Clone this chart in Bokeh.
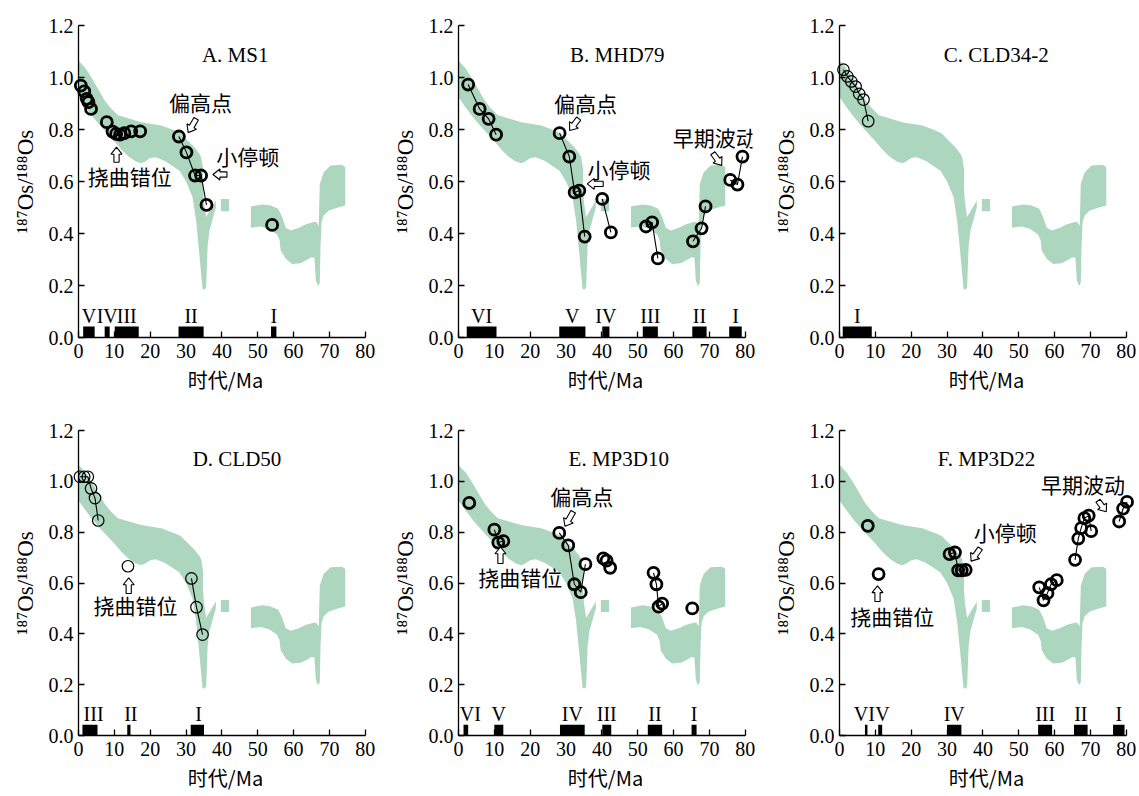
import math
from bokeh.plotting import figure
from bokeh.layouts import column, row
from bokeh.models import Range1d, FixedTicker, PrintfTickFormatter, Label
from bokeh.embed import file_html
from bokeh.resources import INLINE

# ---------------- seawater 187Os/188Os envelope ----------------
band_main_x = [0, 1, 2, 3.6, 5.5, 7.3, 9, 10.1, 11, 12.9,
               15, 17.5, 20, 23.1, 26.8, 28.5, 30.4, 32.3, 33.7, 34.2,
               34.8, 34.7, 35.0, 35.6, 38.3, 38.3, 36.5, 36.0, 35.6, 35.2,
               34.6, 33.7, 32.8, 31.8, 30.0, 28.1, 26.0, 24.0, 21.5, 20.0,
               18.5, 17.5, 16.0, 14.0, 12.0, 10.0, 8.0, 6.0, 4.0, 2.0, 0]
band_main_y = [1.065, 1.05, 1.035, 1.0, 0.955, 0.912, 0.882, 0.867, 0.855, 0.847,
               0.838, 0.828, 0.822, 0.815, 0.796, 0.785, 0.758, 0.732, 0.707, 0.694,
               0.642, 0.58, 0.52, 0.463, 0.527, 0.500, 0.41, 0.347, 0.193, 0.185,
               0.187, 0.322, 0.45, 0.54, 0.60, 0.642, 0.662, 0.68, 0.693, 0.69,
               0.676, 0.67, 0.677, 0.695, 0.722, 0.755, 0.785, 0.815, 0.848, 0.885, 0.925]
band_rect_x = [39.7, 42.0, 42.0, 39.7]
band_rect_y = [0.486, 0.486, 0.533, 0.533]
band_late_x = [48.1, 51.3, 53.6, 55.7, 56.8, 57.8, 59.2, 61.5, 63.3, 65.6,
               66.3, 67.0, 67.3, 68.4, 70.3, 73.5, 74.4, 74.4, 72.6, 69.8,
               68.4, 67.8, 67.5, 67.3, 66.8, 66.2, 65.8, 65.0, 63.8, 62.0,
               59.6, 57.8, 56.4, 56.1, 55.4, 53.1, 50.8, 48.1]
band_late_y = [0.504, 0.512, 0.508, 0.495, 0.463, 0.422, 0.412, 0.422, 0.435, 0.444,
               0.444, 0.43, 0.59, 0.636, 0.662, 0.664, 0.655, 0.508, 0.501, 0.488,
               0.469, 0.444, 0.35, 0.21, 0.198, 0.219, 0.307, 0.309, 0.299, 0.286,
               0.283, 0.303, 0.335, 0.373, 0.396, 0.418, 0.427, 0.422]

# ---------------- samples ----------------
a_title = "A. MS1"
a_age = [0.65, 1.6, 2.3, 2.8, 3.5, 7.9, 9.5, 10.5, 11.6, 12.8, 14.7, 17.2, 28.0, 30.1, 32.5, 34.2, 35.7, 54.0]
a_os = [0.969, 0.947, 0.918, 0.905, 0.879, 0.828, 0.792, 0.783, 0.780, 0.786, 0.793, 0.793, 0.773, 0.712, 0.623, 0.623, 0.51, 0.433]
a_links = [[12, 13, 14, 15, 16]]
a_bar_start = [1.3, 7.3, 10.1, 27.9, 53.7]
a_bar_end = [4.5, 8.7, 16.8, 34.9, 55.2]
a_bar_names = ["V", "IV", "III", "II", "I"]

b_title = "B. MHD79"
b_age = [2.7, 5.9, 8.4, 10.5, 28.2, 30.9, 32.4, 33.7, 35.2, 40.1, 42.5, 52.3, 54.0, 55.6, 65.4, 67.8, 68.9, 75.8, 77.8, 79.2]
b_os = [0.973, 0.879, 0.841, 0.780, 0.786, 0.696, 0.558, 0.565, 0.388, 0.533, 0.404, 0.427, 0.443, 0.304, 0.370, 0.420, 0.504, 0.606, 0.588, 0.696]
b_links = [[0, 1, 2, 3], [4, 5, 6, 7, 8], [9, 10], [11, 12, 13], [14, 15, 16], [17, 18, 19]]
b_bar_start = [2.3, 28.1, 40.1, 51.4, 65.2, 75.5]
b_bar_end = [10.6, 35.4, 42.1, 55.6, 69.2, 79.0]
b_bar_names = ["VI", "V", "IV", "III", "II", "I"]

c_title = "C. CLD34-2"
c_age = [1.1, 2.2, 3.3, 4.5, 5.5, 6.7, 8.0]
c_os = [1.03, 1.004, 0.985, 0.965, 0.937, 0.915, 0.832]
c_links = [[0, 1, 2, 3, 4, 5, 6]]
c_bar_start = [0.9]
c_bar_end = [9.0]
c_bar_names = ["I"]

d_title = "D. CLD50"
d_age = [0.4, 1.6, 2.6, 3.5, 4.6, 5.5, 13.8, 31.5, 32.9, 34.6]
d_os = [1.018, 1.018, 1.018, 0.972, 0.934, 0.846, 0.666, 0.618, 0.505, 0.397]
d_links = [[0, 1, 2, 3, 4, 5], [7, 8, 9]]
d_bar_start = [1.1, 13.6, 31.3]
d_bar_end = [5.3, 14.5, 35.0]
d_bar_names = ["III", "II", "I"]

e_title = "E. MP3D10"
e_age = [3.0, 10.0, 11.1, 12.5, 28.1, 30.6, 32.3, 34.1, 35.4, 40.4, 41.3, 42.3, 54.4, 55.2, 55.8, 56.8, 65.2]
e_os = [0.915, 0.810, 0.759, 0.765, 0.797, 0.748, 0.595, 0.564, 0.674, 0.697, 0.688, 0.660, 0.640, 0.595, 0.507, 0.519, 0.500]
e_links = [[1, 2, 3], [4, 5, 6, 7, 8], [12, 13, 14, 15]]
e_bar_start = [1.4, 10.0, 28.3, 40.1, 52.8, 65.0]
e_bar_end = [2.7, 12.5, 35.2, 42.6, 56.8, 66.4]
e_bar_names = ["VI", "V", "IV", "III", "II", "I"]

f_title = "F. MP3D22"
f_age = [7.9, 10.9, 30.7, 32.2, 33.1, 34.1, 35.2, 55.7, 56.9, 58.0, 59.0, 60.6, 65.7, 66.6, 67.4, 68.3, 69.5, 70.2, 78.0, 79.1, 80.2]
f_os = [0.825, 0.635, 0.714, 0.720, 0.650, 0.650, 0.652, 0.583, 0.532, 0.560, 0.595, 0.611, 0.691, 0.775, 0.816, 0.855, 0.865, 0.804, 0.842, 0.893, 0.919]
f_links = [[2, 3, 4, 5, 6], [7, 8, 9, 10, 11], [12, 13, 14, 15, 16, 17], [18, 19, 20]]
f_bar_start = [7.1, 10.8, 30.0, 55.4, 65.4, 76.3]
f_bar_end = [7.8, 11.9, 34.0, 59.3, 69.2, 79.5]
f_bar_names = ["VI", "V", "IV", "III", "II", "I"]

x_ticks = [0, 10, 20, 30, 40, 50, 60, 70, 80]
y_ticks = [0.0, 0.2, 0.4, 0.6, 0.8, 1.0, 1.2]
x_label = "时代/Ma"
y_label = "¹⁸⁷Os/¹⁸⁸Os"

# annotations: (text, x, y) and arrows (tip x, tip y, direction deg, length px)
a_notes = [("偏高点", 34.0, 0.905), ("挠曲错位", 14.3, 0.623), ("小停顿", 47.2, 0.70)]
a_arrows = [(30.6, 0.788, -120, 16), (10.6, 0.732, 90, 15), (37.5, 0.627, 180, 14)]
b_notes = [("偏高点", 35.4, 0.903), ("小停顿", 44.8, 0.649), ("早期波动", 71.5, 0.770)]
b_arrows = [(31.0, 0.796, -127, 15), (35.9, 0.591, 180, 16), (73.4, 0.662, -54, 15)]
c_notes = []
c_arrows = []
d_notes = [("挠曲错位", 15.9, 0.513)]
d_arrows = [(14.0, 0.62, 90, 16)]
e_notes = [("偏高点", 34.4, 0.944), ("挠曲错位", 17.2, 0.622)]
e_arrows = [(29.7, 0.823, -119, 17), (11.7, 0.742, 90, 17)]
f_notes = [("挠曲错位", 14.7, 0.469), ("小停顿", 46.2, 0.801), ("早期波动", 67.9, 0.989)]
f_arrows = [(10.6, 0.589, 90, 16), (36.7, 0.686, -125, 16), (74.4, 0.880, -54, 14)]

# where an interval label sits off its bar's centre (index -> label x)
a_label_at = {}
b_label_at = {}
c_label_at = {}
d_label_at = {0: 4.2, 1: 14.6, 2: 33.5}
e_label_at = {0: 3.3}
f_label_at = {0: 6.9, 1: 12.0}

# ---------------- styling ----------------
BAND = "#add6be"
SERIF = "Liberation Serif"
CJK = "Noto Sans CJK SC"
X_END = 82.0
PX_MA = 287 / 80.0
FRAME_W = int(round(PX_MA * X_END))
FRAME_H = 312
PX_OS = FRAME_H / 1.2


def block_arrow(p, tx, ty, ang, length):
    ux, uy = math.cos(math.radians(ang)), math.sin(math.radians(ang))
    nx, ny = -uy, ux
    hl, hw, sw = 7.0, 5.5, 2.6
    pts = [(0, 0), (-hl, hw), (-hl, sw), (-length, sw), (-length, -sw), (-hl, -sw), (-hl, -hw)]
    xs = [tx + (a * ux + b * nx) / PX_MA for a, b in pts]
    ys = [ty + (a * uy + b * ny) / PX_OS for a, b in pts]
    r = p.patch(xs, ys, fill_color="white", line_color="black", line_width=1.1)
    r.level = "overlay"


def panel(title, title_x, age, os_, links, bstart, bend, bnames, label_at, notes, arrows,
          bold, bl, br, bt, bb):
    p = figure(width=bl + FRAME_W + br, height=bt + FRAME_H + bb,
               x_range=Range1d(0, X_END), y_range=Range1d(0, 1.2),
               output_backend="svg", toolbar_location=None,
               min_border_left=bl, min_border_right=br,
               min_border_top=bt, min_border_bottom=bb)
    p.outline_line_color = None
    p.grid.visible = False
    p.background_fill_color = "white"
    p.border_fill_color = "white"

    for ax in (p.xaxis[0], p.yaxis[0]):
        ax.axis_line_color = "black"
        ax.axis_line_width = 1.3
        ax.major_tick_line_color = "black"
        ax.major_tick_line_width = 1.3
        ax.major_tick_in = 6
        ax.major_tick_out = 0
        ax.minor_tick_in = 0
        ax.minor_tick_out = 0
        ax.major_label_text_font = SERIF
        ax.major_label_text_font_size = "20px"
        ax.major_label_text_color = "black"
        ax.axis_label_text_font_style = "normal"
        ax.axis_label_text_color = "black"
    p.xaxis.bounds = (0, 80)
    p.xaxis.ticker = FixedTicker(ticks=x_ticks)
    p.yaxis.ticker = FixedTicker(ticks=y_ticks)
    p.yaxis.formatter = PrintfTickFormatter(format="%.1f")
    p.xaxis.major_label_standoff = 6
    p.yaxis.major_label_standoff = 5
    p.xaxis.axis_label = x_label
    p.xaxis.axis_label_text_font = CJK
    p.xaxis.axis_label_text_font_size = "20px"
    p.xaxis.axis_label_standoff = 4
    p.yaxis.axis_label = y_label
    p.yaxis.axis_label_text_font = SERIF
    p.yaxis.axis_label_text_font_size = "23px"
    p.yaxis.axis_label_standoff = 8

    # envelope
    p.patches(xs=[band_main_x, band_rect_x, band_late_x],
              ys=[band_main_y, band_rect_y, band_late_y],
              fill_color=BAND, line_color=None)

    # stratigraphic intervals
    p.quad(left=bstart, right=bend, bottom=0, top=0.042,
           fill_color="black", line_color=None)
    for i, (s, e, n) in enumerate(zip(bstart, bend, bnames)):
        cx = label_at.get(i, max((s + e) / 2.0, 2.2))
        p.add_layout(Label(x=cx, y=0.042, text=n, text_font=SERIF,
                           text_font_size="20px", text_align="center",
                           text_baseline="bottom", text_color="black"))

    # connecting lines
    if links:
        lx = [[age[i] for i in ch] for ch in links]
        ly = [[os_[i] for i in ch] for ch in links]
        lr = p.multi_line(lx, ly, line_color="black", line_width=1.1)
        lr.level = "overlay"

    # samples
    sr = p.scatter(age, os_, marker="circle",
                   size=11 if bold else 11.5,
                   fill_color=None, line_color="black",
                   line_width=2.8 if bold else 1.2)
    sr.level = "overlay"

    p.add_layout(Label(x=title_x, y=1.087, text=title, text_font=SERIF,
                       text_font_size="21px", text_align="center",
                       text_baseline="middle", text_color="black"))
    for t, x, y in notes:
        p.add_layout(Label(x=x, y=y, text=t, text_font=CJK, text_font_size="21px",
                           text_align="center", text_baseline="middle",
                           text_color="black"))
    for tx, ty, ang, ln in arrows:
        block_arrow(p, tx, ty, ang, ln)
    return p


# column borders: frame left edges at 78 / 458 / 839; row frame tops at 25 / 430
pa = panel(a_title, 43.7, a_age, a_os, a_links, a_bar_start, a_bar_end, a_bar_names,
           a_label_at, a_notes, a_arrows, True, 78, 8, 25, 68)
pb = panel(b_title, 44.3, b_age, b_os, b_links, b_bar_start, b_bar_end, b_bar_names,
           b_label_at, b_notes, b_arrows, True, 78, 8, 25, 68)
pc = panel(c_title, 43.7, c_age, c_os, c_links, c_bar_start, c_bar_end, c_bar_names,
           c_label_at, c_notes, c_arrows, False, 79, 4, 25, 68)
pd_ = panel(d_title, 44.2, d_age, d_os, d_links, d_bar_start, d_bar_end, d_bar_names,
            d_label_at, d_notes, d_arrows, False, 78, 8, 25, 52)
pe = panel(e_title, 44.7, e_age, e_os, e_links, e_bar_start, e_bar_end, e_bar_names,
           e_label_at, e_notes, e_arrows, True, 78, 8, 25, 52)
pf = panel(f_title, 41.0, f_age, f_os, f_links, f_bar_start, f_bar_end, f_bar_names,
           f_label_at, f_notes, f_arrows, True, 79, 4, 25, 52)

layout = column(row(pa, pb, pc), row(pd_, pe, pf))
open("out.html", "w").write(file_html(layout, INLINE))
